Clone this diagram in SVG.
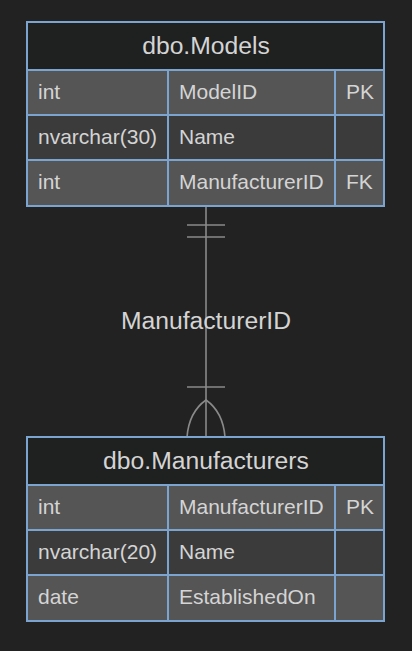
<svg xmlns="http://www.w3.org/2000/svg" width="412" height="651" viewBox="0 0 412 651">
<style>
text{font-family:"Liberation Sans",Arial,sans-serif;fill:#d4d4d4}
.h{font-size:24.7px;text-anchor:middle}
.c{font-size:21px}
.hd{fill:#1f2020;stroke:#7ba4d1;stroke-width:2}
.r1{fill:#555555;stroke:#7ba4d1;stroke-width:2}
.r2{fill:#3b3b3b;stroke:#7ba4d1;stroke-width:2}
.ln{stroke:#8a8a8a;stroke-width:1.6;fill:none}
</style>
<rect width="412" height="651" fill="#222222"/>
<g id="connectors">
<line class="ln" x1="206" y1="206" x2="206" y2="437"/>
<line class="ln" x1="187" y1="225" x2="225" y2="225"/>
<line class="ln" x1="187" y1="237" x2="225" y2="237"/>
<line class="ln" x1="187" y1="387" x2="225" y2="387"/>
<path class="ln" d="M187 437 Q189 412 206 400 Q223 412 225 437"/>
<text class="h" x="206" y="329">ManufacturerID</text>
</g>
<g id="dbo.Models">
<rect class="hd" x="27" y="22" width="357" height="48"/>
<text class="h" x="206" y="54">dbo.Models</text>
<rect class="r1" x="27" y="70" width="141" height="45"/>
<rect class="r1" x="168" y="70" width="167" height="45"/>
<rect class="r1" x="335" y="70" width="49" height="45"/>
<rect class="r2" x="27" y="115" width="141" height="45"/>
<rect class="r2" x="168" y="115" width="167" height="45"/>
<rect class="r2" x="335" y="115" width="49" height="45"/>
<rect class="r1" x="27" y="160" width="141" height="46"/>
<rect class="r1" x="168" y="160" width="167" height="46"/>
<rect class="r1" x="335" y="160" width="49" height="46"/>
<text class="c" x="38" y="99">int</text>
<text class="c" x="179" y="99">ModelID</text>
<text class="c" x="346" y="99">PK</text>
<text class="c" x="38" y="144">nvarchar(30)</text>
<text class="c" x="179" y="144">Name</text>
<text class="c" x="38" y="189">int</text>
<text class="c" x="179" y="189">ManufacturerID</text>
<text class="c" x="346" y="189">FK</text>
</g>
<g id="dbo.Manufacturers">
<rect class="hd" x="27" y="437" width="357" height="48"/>
<text class="h" x="206" y="469">dbo.Manufacturers</text>
<rect class="r1" x="27" y="485" width="141" height="45"/>
<rect class="r1" x="168" y="485" width="167" height="45"/>
<rect class="r1" x="335" y="485" width="49" height="45"/>
<rect class="r2" x="27" y="530" width="141" height="45"/>
<rect class="r2" x="168" y="530" width="167" height="45"/>
<rect class="r2" x="335" y="530" width="49" height="45"/>
<rect class="r1" x="27" y="575" width="141" height="46"/>
<rect class="r1" x="168" y="575" width="167" height="46"/>
<rect class="r1" x="335" y="575" width="49" height="46"/>
<text class="c" x="38" y="514">int</text>
<text class="c" x="179" y="514">ManufacturerID</text>
<text class="c" x="346" y="514">PK</text>
<text class="c" x="38" y="559">nvarchar(20)</text>
<text class="c" x="179" y="559">Name</text>
<text class="c" x="38" y="604">date</text>
<text class="c" x="179" y="604">EstablishedOn</text>
</g>
</svg>
